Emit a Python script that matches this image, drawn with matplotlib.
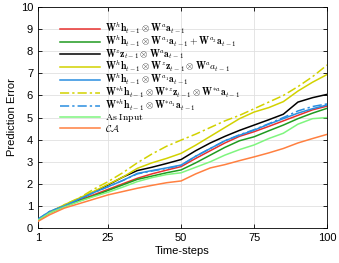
import matplotlib
matplotlib.use("Agg")
import matplotlib.pyplot as plt

t = [1, 5, 10, 15, 20, 25, 30, 35, 40, 45, 50, 55, 60, 65, 70, 75, 80, 85, 90, 95, 100]

red = [0.35, 0.7, 0.97, 1.25, 1.5, 1.75, 2.0, 2.25, 2.45, 2.62, 2.78, 3.15, 3.5, 3.85, 4.15, 4.36, 4.6, 4.85, 5.1, 5.35, 5.52]
green = [0.35, 0.7, 0.97, 1.22, 1.45, 1.7, 1.95, 2.2, 2.35, 2.5, 2.63, 2.95, 3.3, 3.65, 3.95, 4.13, 4.4, 4.66, 4.95, 5.2, 5.42]
black = [0.35, 0.7, 1.0, 1.3, 1.62, 1.95, 2.3, 2.6, 2.75, 2.92, 3.1, 3.5, 3.85, 4.15, 4.42, 4.66, 4.9, 5.15, 5.7, 5.9, 6.05]
yellow = [0.35, 0.72, 1.05, 1.35, 1.65, 1.98, 2.3, 2.7, 2.95, 3.15, 3.38, 3.75, 4.15, 4.55, 4.95, 5.25, 5.45, 5.72, 6.2, 6.6, 6.95]
blue = [0.4, 0.75, 1.0, 1.3, 1.6, 1.87, 2.15, 2.47, 2.6, 2.72, 2.85, 3.25, 3.6, 3.95, 4.2, 4.43, 4.7, 4.95, 5.2, 5.4, 5.57]
yellow_dd = [0.35, 0.7, 1.05, 1.35, 1.75, 2.1, 2.5, 2.95, 3.35, 3.7, 3.98, 4.25, 4.55, 4.85, 5.1, 5.4, 5.7, 6.0, 6.4, 6.85, 7.38]
blue_dd = [0.4, 0.75, 1.0, 1.3, 1.6, 1.87, 2.15, 2.45, 2.58, 2.7, 2.83, 3.25, 3.6, 3.95, 4.22, 4.45, 4.72, 5.0, 5.3, 5.5, 5.62]
as_input = [0.35, 0.68, 0.95, 1.2, 1.42, 1.62, 1.85, 2.1, 2.28, 2.42, 2.5, 2.75, 3.0, 3.3, 3.55, 3.76, 4.05, 4.29, 4.7, 4.95, 5.0]
ca = [0.3, 0.6, 0.9, 1.1, 1.3, 1.5, 1.65, 1.8, 1.93, 2.05, 2.13, 2.45, 2.72, 2.87, 3.05, 3.22, 3.4, 3.6, 3.85, 4.05, 4.24]

labels = [
    r"$\mathbf{W}^h\mathbf{h}_{t-1}\otimes\mathbf{W}^a\mathbf{a}_{t-1}$",
    r"$\mathbf{W}^h\mathbf{h}_{t-1}\otimes\mathbf{W}^{a_1}\mathbf{a}_{t-1}+\mathbf{W}^{a_2}\mathbf{a}_{t-1}$",
    r"$\mathbf{W}^z\mathbf{z}_{t-1}\otimes\mathbf{W}^a\mathbf{a}_{t-1}$",
    r"$\mathbf{W}^h\mathbf{h}_{t-1}\otimes\mathbf{W}^z\mathbf{z}_{t-1}\otimes\mathbf{W}^a a_{t-1}$",
    r"$\mathbf{W}^h\mathbf{h}_{t-1}\otimes\mathbf{W}^{a_1}\mathbf{a}_{t-1}$",
    r"$\mathbf{W}^{*h}\mathbf{h}_{t-1}\otimes\mathbf{W}^{*z}\mathbf{z}_{t-1}\otimes\mathbf{W}^{*a}\mathbf{a}_{t-1}$",
    r"$\mathbf{W}^{*h}\mathbf{h}_{t-1}\otimes\mathbf{W}^{*a_1}\mathbf{a}_{t-1}$",
    r"$\mathrm{As\ Input}$",
    r"$\mathcal{CA}$",
]

plt.rcParams['mathtext.fontset'] = 'cm'
plt.rcParams['font.family'] = ['Liberation Sans', 'DejaVu Sans']

fig = plt.figure(figsize=(3.39, 2.63), dpi=100)
ax = fig.add_axes([0.112, 0.133, 0.853, 0.84])

lw = 1.1
ax.plot(t, red, color='#e8312f', lw=lw, label=labels[0], zorder=3)
ax.plot(t, green, color='#1f9a1f', lw=lw, label=labels[1], zorder=3)
ax.plot(t, black, color='black', lw=lw, label=labels[2], zorder=3)
ax.plot(t, yellow, color='#d2d200', lw=lw, label=labels[3], zorder=3)
ax.plot(t, blue, color='#2a8ee0', lw=lw, label=labels[4], zorder=3)
ax.plot(t, yellow_dd, color='#d2d200', lw=lw, dashes=(6, 2, 1.5, 2), label=labels[5], zorder=3)
ax.plot(t, blue_dd, color='#2a8ee0', lw=lw, dashes=(6, 2, 1.5, 2), label=labels[6], zorder=3)
ax.plot(t, as_input, color='#7ff57f', lw=lw, label=labels[7], zorder=3)
ax.plot(t, ca, color='#ff8040', lw=lw, label=labels[8], zorder=3)

ax.set_xlim(1, 100)
ax.set_ylim(0, 10)
ax.set_xticks([1, 25, 50, 75, 100])
ax.set_yticks(range(0, 11))
ax.grid(True, color='#e0e0e0', lw=0.6)
ax.set_axisbelow(True)
ax.tick_params(direction='in', top=True, right=True, labelsize=8, length=3, width=0.6)
for s in ax.spines.values():
    s.set_linewidth(0.6)
ax.set_xlabel("Time-steps", fontsize=8, labelpad=2)
ax.set_ylabel("Prediction Error", fontsize=8, labelpad=3)

leg = ax.legend(loc='upper left', bbox_to_anchor=(0.076, 0.935), frameon=False,
                fontsize=7.0, handlelength=4.1, handletextpad=0.5,
                labelspacing=-0.13, borderaxespad=0, borderpad=0)

fig.savefig("out.png", dpi=100)
